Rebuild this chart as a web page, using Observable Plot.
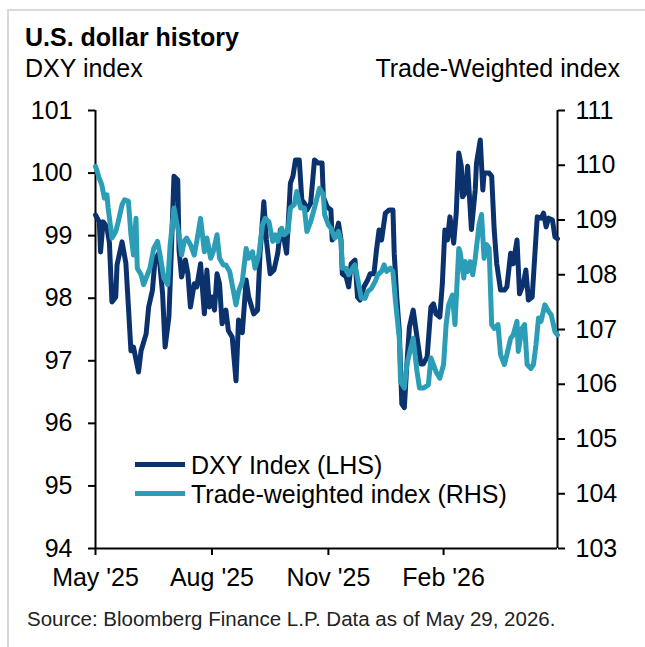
<!DOCTYPE html>
<html>
<head>
<meta charset="utf-8">
<script src="https://cdn.jsdelivr.net/npm/d3@7"></script>
<script src="https://cdn.jsdelivr.net/npm/@observablehq/plot@0.6"></script>
<style>
  html, body { margin: 0; padding: 0; background: #fff; }
  #wrap { position: relative; width: 645px; height: 647px; overflow: hidden; font-family: "Liberation Sans", Arial, sans-serif; color: #000; }
  #frame { position: absolute; left: 7px; top: 9px; right: -10px; bottom: -10px; border-left: 2px solid #d9d9d9; border-top: 2px solid #d9d9d9; }
  .t { position: absolute; white-space: nowrap; line-height: 25px; font-size: 25px; }
  #title { left: 25px; top: 25px; font-weight: bold; }
  #subL { left: 25px; top: 56px; }
  #subR { right: 25px; top: 56px; }
  #chart { position: absolute; left: 0; top: 90px; }
  .sw { position: absolute; left: 135px; width: 50px; height: 5px; }
  #caption { position: absolute; left: 27px; top: 609px; font-size: 20.5px; line-height: 20px; white-space: nowrap; color: #222; }
</style>
</head>
<body>
<div id="wrap">
  <div id="frame"></div>
  <div class="t" id="title">U.S. dollar history</div>
  <div class="t" id="subL">DXY index</div>
  <div class="t" id="subR">Trade-Weighted index</div>
  <div id="chart"></div>
  <div class="sw" id="sw1" style="top:462px"></div>
  <div class="t" id="lg1" style="left:191px; top:453px"></div>
  <div class="sw" id="sw2" style="top:491px"></div>
  <div class="t" id="lg2" style="left:191px; top:482px"></div>
  <div id="caption">Source: Bloomberg Finance L.P. Data as of May 29, 2026.</div>
</div>
<script>
const seriesNames = ["DXY Index (LHS)", "Trade-weighted index (RHS)"];
const seriesColors = ["#0b326c", "#2c9db6"];

const dxyDates = ["2025-05-29","2025-06-01","2025-06-02","2025-06-04","2025-06-07","2025-06-09","2025-06-11","2025-06-14","2025-06-15","2025-06-19","2025-06-22","2025-06-24","2025-06-26","2025-06-28","2025-07-02","2025-07-04","2025-07-08","2025-07-10","2025-07-13","2025-07-15","2025-07-18","2025-07-21","2025-07-23","2025-07-26","2025-07-27","2025-07-30","2025-08-02","2025-08-03","2025-08-05","2025-08-08","2025-08-10","2025-08-12","2025-08-15","2025-08-17","2025-08-20","2025-08-23","2025-08-25","2025-08-27","2025-08-29","2025-08-31","2025-09-02","2025-09-04","2025-09-06","2025-09-09","2025-09-11","2025-09-14","2025-09-17","2025-09-19","2025-09-22","2025-09-25","2025-09-27","2025-10-01","2025-10-04","2025-10-06","2025-10-09","2025-10-11","2025-10-14","2025-10-17","2025-10-20","2025-10-22","2025-10-25","2025-10-27","2025-10-30","2025-11-01","2025-11-03","2025-11-06","2025-11-08","2025-11-10","2025-11-12","2025-11-15","2025-11-18","2025-11-21","2025-11-24","2025-11-25","2025-11-28","2025-12-01","2025-12-02","2025-12-05","2025-12-07","2025-12-09","2025-12-10","2025-12-13","2025-12-15","2025-12-17","2025-12-20","2025-12-22","2025-12-24","2025-12-27","2025-12-30","2026-01-01","2026-01-04","2026-01-06","2026-01-08","2026-01-10","2026-01-13","2026-01-16","2026-01-19","2026-01-20","2026-01-22","2026-01-24","2026-01-26","2026-01-28","2026-01-30","2026-02-01","2026-02-04","2026-02-07","2026-02-10","2026-02-12","2026-02-15","2026-02-18","2026-02-20","2026-02-22","2026-02-25","2026-02-27","2026-03-01","2026-03-03","2026-03-05","2026-03-08","2026-03-10","2026-03-12","2026-03-14","2026-03-15","2026-03-17","2026-03-19","2026-03-22","2026-03-25","2026-03-26","2026-03-29","2026-03-31","2026-04-01","2026-04-05","2026-04-07","2026-04-09","2026-04-11","2026-04-14","2026-04-17","2026-04-19","2026-04-22","2026-04-24","2026-04-27","2026-04-29","2026-05-02","2026-05-04","2026-05-06","2026-05-09","2026-05-11","2026-05-13","2026-05-16","2026-05-18","2026-05-20","2026-05-22","2026-05-25","2026-05-27","2026-05-29"];
const dxyValues = [99.33,99.22,98.74,99.22,99.14,98.88,97.94,98.02,98.53,98.90,98.56,97.86,97.16,97.22,96.82,97.16,97.43,97.86,98.13,98.61,98.72,98.07,97.22,97.70,98.23,99.95,99.89,98.77,98.34,98.61,98.39,97.86,98.23,98.18,98.55,97.75,98.45,97.86,98.02,97.81,98.39,98.23,97.59,97.81,97.48,97.38,96.68,97.65,97.45,98.29,98.02,97.75,97.81,98.72,99.54,98.93,98.39,98.45,98.72,99.09,98.93,98.72,99.84,99.95,100.21,100.21,99.57,99.52,99.41,99.52,100.21,100.16,100.16,99.62,99.46,99.41,98.93,99.04,99.20,98.93,98.39,98.34,98.18,98.55,98.61,98.02,97.97,98.18,98.29,98.39,98.39,98.77,99.09,98.93,99.36,99.41,99.41,98.72,98.02,97.48,96.31,96.25,96.95,97.54,97.81,97.38,96.95,96.95,97.06,97.86,97.91,97.75,97.70,98.23,99.09,98.93,99.30,98.88,99.36,100.32,100.11,99.62,99.68,100.11,99.10,99.73,100.16,100.53,99.73,100.00,100.00,99.95,99.09,98.55,98.13,98.13,98.18,98.72,98.55,98.93,98.07,98.23,98.45,97.97,98.02,98.66,99.30,99.28,99.36,99.14,99.28,99.25,98.98,98.95];

const twDates = ["2025-05-29","2025-06-01","2025-06-03","2025-06-05","2025-06-07","2025-06-08","2025-06-11","2025-06-14","2025-06-16","2025-06-19","2025-06-21","2025-06-24","2025-06-26","2025-06-28","2025-06-30","2025-07-01","2025-07-04","2025-07-06","2025-07-09","2025-07-11","2025-07-14","2025-07-17","2025-07-19","2025-07-22","2025-07-25","2025-07-27","2025-07-30","2025-08-01","2025-08-03","2025-08-05","2025-08-07","2025-08-09","2025-08-12","2025-08-15","2025-08-17","2025-08-20","2025-08-23","2025-08-25","2025-08-28","2025-08-30","2025-09-02","2025-09-04","2025-09-07","2025-09-09","2025-09-12","2025-09-14","2025-09-17","2025-09-19","2025-09-22","2025-09-25","2025-09-27","2025-09-30","2025-10-02","2025-10-05","2025-10-08","2025-10-10","2025-10-13","2025-10-16","2025-10-18","2025-10-20","2025-10-23","2025-10-25","2025-10-28","2025-10-30","2025-11-02","2025-11-04","2025-11-07","2025-11-10","2025-11-12","2025-11-15","2025-11-18","2025-11-22","2025-11-25","2025-11-26","2025-11-29","2025-12-01","2025-12-04","2025-12-07","2025-12-09","2025-12-10","2025-12-13","2025-12-15","2025-12-18","2025-12-20","2025-12-23","2025-12-25","2025-12-28","2025-12-30","2026-01-02","2026-01-05","2026-01-07","2026-01-10","2026-01-12","2026-01-14","2026-01-17","2026-01-19","2026-01-21","2026-01-24","2026-01-25","2026-01-28","2026-01-30","2026-02-02","2026-02-04","2026-02-07","2026-02-09","2026-02-12","2026-02-16","2026-02-18","2026-02-20","2026-02-22","2026-02-25","2026-02-28","2026-03-02","2026-03-04","2026-03-07","2026-03-09","2026-03-12","2026-03-13","2026-03-16","2026-03-17","2026-03-19","2026-03-21","2026-03-23","2026-03-25","2026-03-28","2026-03-30","2026-04-01","2026-04-03","2026-04-05","2026-04-07","2026-04-09","2026-04-12","2026-04-14","2026-04-17","2026-04-19","2026-04-22","2026-04-24","2026-04-27","2026-04-28","2026-05-01","2026-05-03","2026-05-05","2026-05-08","2026-05-10","2026-05-12","2026-05-14","2026-05-16","2026-05-19","2026-05-22","2026-05-24","2026-05-27","2026-05-29"];
const twValues = [109.98,109.76,109.64,109.40,109.46,109.22,108.67,108.79,108.97,109.28,109.37,109.34,108.73,108.36,109.03,108.12,108.00,107.82,108.00,108.12,108.48,108.61,108.36,107.94,107.82,108.55,109.22,108.97,108.73,108.36,108.61,108.67,108.55,108.36,108.61,109.03,108.42,108.67,108.30,108.42,108.73,108.30,108.18,108.18,108.06,107.82,107.45,107.69,107.88,108.48,108.30,108.42,108.12,108.36,108.91,109.03,108.97,108.61,108.73,108.61,108.85,108.73,108.79,109.22,109.28,109.52,109.22,109.22,108.79,108.97,109.22,109.58,109.46,109.10,108.91,108.85,108.67,108.79,108.61,108.12,108.12,108.00,108.12,108.18,107.82,107.57,107.57,107.69,107.75,107.88,108.00,108.06,108.18,108.06,108.12,108.06,107.51,106.84,106.05,105.93,106.36,106.66,106.84,106.23,105.93,105.93,105.99,106.48,106.36,106.23,106.11,106.36,107.09,107.45,107.63,107.09,108.48,108.42,107.94,108.24,108.06,108.24,108.00,108.30,108.91,109.10,108.30,108.55,108.48,107.09,107.02,107.09,106.54,106.36,106.54,106.84,106.90,107.15,106.60,107.02,107.09,106.36,106.29,106.36,106.72,107.21,107.15,107.45,107.33,107.27,106.96,106.90];

const xDomain = ["2025-05-29", "2026-05-29"];
const xTickDates = ["2025-05-29", "2025-08-29", "2025-11-29", "2026-02-28"];
const xTickLabels = ["May '25", "Aug '25", "Nov '25", "Feb '26"];
const leftTicks = [94, 95, 96, 97, 98, 99, 100, 101];
const rightTicks = [103, 104, 105, 106, 107, 108, 109, 110, 111];

const parse = d3.utcParse("%Y-%m-%d");
const L = [94, 101], R = [103, 111];
const toLeft = v => L[0] + (v - R[0]) * (L[1] - L[0]) / (R[1] - R[0]);
const toRight = v => R[0] + (v - L[0]) * (R[1] - R[0]) / (L[1] - L[0]);

const dxy = dxyDates.map((d, i) => ({date: parse(d), value: dxyValues[i]}));
const tw = twDates.map((d, i) => ({date: parse(d), value: twValues[i]}));
const ticksX = xTickDates.map(parse);
const labelMap = new Map(ticksX.map((d, i) => [+d, xTickLabels[i]]));
const x0 = parse(xDomain[0]), x1 = parse(xDomain[1]);

const chart = Plot.plot({
  width: 645,
  height: 510,
  marginTop: 20,
  marginBottom: 52,
  marginLeft: 95,
  marginRight: 88,
  style: {fontFamily: "'Liberation Sans', Arial, sans-serif", fontSize: "25px", color: "#000", background: "transparent", overflow: "visible"},
  x: {type: "utc", domain: [x0, x1]},
  y: {domain: L},
  marks: [
    Plot.axisY(leftTicks, {anchor: "left", tickSize: 7, tickPadding: 16, tickFormat: d => String(d), strokeWidth: 2, label: null}),
    Plot.axisY(rightTicks.map(toLeft), {anchor: "right", tickSize: 7, tickPadding: 11, tickFormat: d => String(Math.round(toRight(d))), strokeWidth: 2, label: null}),
    Plot.axisX(ticksX, {anchor: "bottom", tickSize: 7, tickPadding: 13, tickFormat: d => labelMap.get(+d), strokeWidth: 2, label: null}),
    Plot.ruleX([x0, x1], {y1: L[0], y2: L[1], stroke: "#000", strokeWidth: 2}),
    Plot.ruleY([L[0]], {x1: x0, x2: x1, stroke: "#000", strokeWidth: 2}),
    Plot.line(dxy, {x: "date", y: "value", stroke: seriesColors[0], strokeWidth: 5, strokeLinejoin: "round", strokeLinecap: "round"}),
    Plot.line(tw, {x: "date", y: d => toLeft(d.value), stroke: seriesColors[1], strokeWidth: 5, strokeLinejoin: "round", strokeLinecap: "round"})
  ]
});
document.getElementById("chart").appendChild(chart);

document.getElementById("sw1").style.background = seriesColors[0];
document.getElementById("sw2").style.background = seriesColors[1];
document.getElementById("lg1").textContent = seriesNames[0];
document.getElementById("lg2").textContent = seriesNames[1];
</script>
</body>
</html>
